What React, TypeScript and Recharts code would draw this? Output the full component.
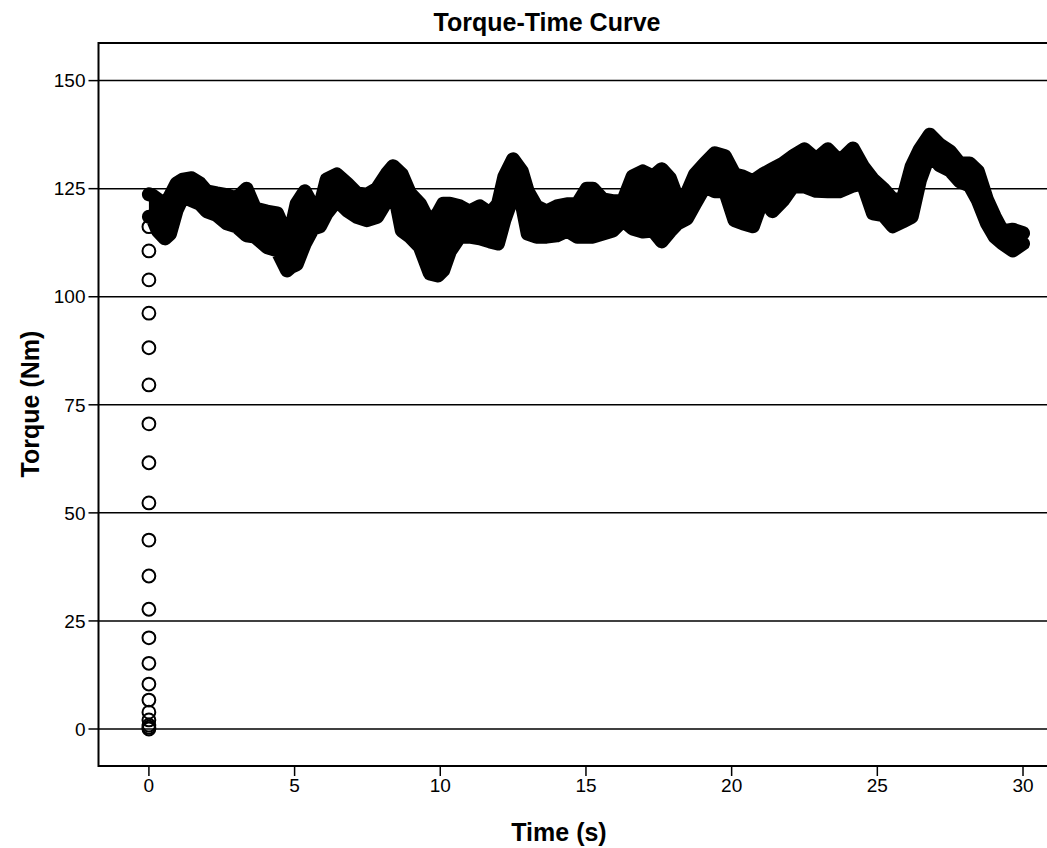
import React from "react";
import {
  ComposedChart, Area, Scatter, XAxis, YAxis, CartesianGrid, ReferenceArea,
} from "recharts";

// envelope of the dense torque trace (centres of the outermost markers)
const bandTime = [
  0.0, 0.1, 0.3, 0.55, 0.72, 0.95, 1.17, 1.47, 1.75, 1.98, 2.33, 2.67, 3.0, 3.35, 3.64, 4.05, 4.4, 4.74, 4.9,
  5.07, 5.35, 5.63, 5.87, 6.1, 6.45, 6.8, 7.14, 7.48, 7.83, 8.17, 8.38, 8.68, 8.96, 9.3, 9.64, 9.92,
  10.1, 10.33, 10.67, 11.0, 11.36, 11.7, 11.98, 12.2, 12.5, 12.8, 13.0, 13.3, 13.65, 14.0, 14.35, 14.7,
  15.03, 15.24, 15.58, 15.92, 16.27, 16.6, 16.95, 17.3, 17.6, 17.88, 18.15, 18.46, 18.74, 19.08, 19.42, 19.77,
  20.1, 20.38, 20.73, 21.07, 21.4, 21.76, 22.1, 22.5, 22.9, 23.3, 23.7, 24.16, 24.5, 24.85,
  25.2, 25.53, 25.87, 26.18, 26.46, 26.8, 27.14, 27.5, 27.83, 28.17, 28.45, 28.76, 29.03, 29.3, 29.65, 30.0,
];
const bandHigh = [
  123.7, 123.5, 122.5, 121.4, 123.2, 126.2, 127.1, 127.4, 126.2, 124.4, 123.9, 123.5, 122.7, 125, 120.4, 119.7, 119.3, 114, 116.3,
  121.5, 124.4, 120.9, 120.9, 127.1, 128.3, 126.2, 123.9, 123.6, 125, 128.5, 130.2, 128.3, 123.9, 121.5, 117, 119.3,
  121.5, 121.5, 120.9, 119.7, 120.9, 119.3, 121.4, 127.8, 131.8, 129, 124.4, 120.9, 119.7, 120.9, 121.4, 121.4,
  125, 125, 122.5, 122.1, 122.1, 127.8, 129, 127.8, 129.5, 127.4, 122.5, 123.9, 128.3, 130.8, 133.2, 132.5,
  128.3, 127.8, 126.7, 128.3, 129.5, 130.8, 132.5, 134.1, 131.8, 134.1, 131.3, 134.3, 130.2, 127.1,
  125, 122.5, 122.5, 130.2, 134.1, 137.5, 135.2, 133.6, 130.8, 130.8, 129, 122.5, 118.5, 115.1, 115.5, 114.7,
];
const bandLow = [
  118.5, 118.5, 115.3, 113.5, 114.5, 120, 123.2, 122.3, 121.5, 119.8, 118.9, 117, 116.3, 114.2, 113.9, 111.5, 110.7, 106.1, 107,
  107.5, 112.3, 115.8, 116.3, 119.3, 122.3, 120, 118.5, 117.7, 118.5, 122.3, 125.5, 115.3, 113.9, 111.5, 105.4, 104.9,
  106.1, 110.5, 113.9, 113.9, 113.5, 112.8, 112.3, 117.7, 123.4, 121.5, 114.6, 113.9, 113.9, 114.2, 115.3, 113.9,
  113.9, 113.9, 114.6, 115.3, 117.7, 115.8, 115.1, 115.3, 112.8, 115.1, 117, 118.1, 121.5, 125.5, 124.4, 124.5,
  117.7, 117, 116.3, 122.7, 119.8, 122.3, 125.5, 125.5, 124.5, 124.4, 124.4, 125.7, 126.2, 119.3,
  118.9, 116.3, 117.4, 118.5, 126.9, 133.2, 130.4, 129.2, 126.7, 125.7, 122.3, 117, 113.9, 112.3, 110.7, 112.3,
];

// the ramp-up samples recorded at t = 0
const startTorque = [
  116.2, 110.6, 103.9, 96.2, 88.2, 79.6, 70.6, 61.6, 52.3, 43.7, 35.4, 27.7, 21.1, 15.2, 10.4, 6.7, 3.9, 2.1, 0.9, 0.4, 0,
];

const xTicks = [0, 5, 10, 15, 20, 25, 30];
const yTicks = [0, 25, 50, 75, 100, 125, 150];

const bandData = bandTime.map((t, i) => ({ t, range: [bandLow[i], bandHigh[i]] }));
const startData = startTorque.map((v) => ({ t: 0, v }));

const X_DOMAIN: [number, number] = [-1.73, 31.75];
const Y_DOMAIN: [number, number] = [-8.56, 158.7];

const font = "Liberation Sans, Arial, sans-serif";
const tickStyle = { fill: "#000", fontSize: 19, fontFamily: font };
const titleStyle: React.CSSProperties = {
  position: "absolute", fontFamily: font, fontWeight: "bold", fontSize: 25, whiteSpace: "nowrap",
};

const OpenCircle = (props: any) => (
  <circle cx={props.cx} cy={props.cy} r={6.4} fill="none" stroke="#000" strokeWidth={2} />
);

export default function App() {
  return (
    <div style={{ position: "absolute", left: 0, top: 0, width: 1047, height: 848, overflow: "hidden", background: "#fff" }}>
      <ComposedChart width={1100} height={848} data={bandData} margin={{ top: 43, right: 26, bottom: 42, left: 0 }}>
        <CartesianGrid horizontal vertical={false} stroke="#000" strokeWidth={1.5} />
        <XAxis
          type="number"
          dataKey="t"
          domain={X_DOMAIN}
          ticks={xTicks}
          allowDataOverflow
          height={40}
          tick={tickStyle}
          tickLine={{ stroke: "#000", strokeWidth: 1.5 }}
          tickSize={10}
          tickMargin={3}
          axisLine={false}
        />
        <YAxis
          type="number"
          domain={Y_DOMAIN}
          ticks={yTicks}
          allowDataOverflow
          width={98.5}
          tick={tickStyle}
          tickLine={{ stroke: "#000", strokeWidth: 1.5 }}
          tickSize={10}
          tickMargin={3}
          axisLine={false}
        />
        <Area
          dataKey="range"
          type="linear"
          fill="#000"
          fillOpacity={1}
          stroke="#000"
          strokeWidth={14}
          strokeLinejoin="round"
          strokeLinecap="round"
          dot={false}
          activeDot={false}
          isAnimationActive={false}
        />
        <Scatter data={startData} dataKey="v" shape={OpenCircle} isAnimationActive={false} />
        <ReferenceArea
          x1={X_DOMAIN[0]}
          x2={X_DOMAIN[1]}
          y1={Y_DOMAIN[0]}
          y2={Y_DOMAIN[1]}
          fill="none"
          stroke="#000"
          strokeWidth={2}
          ifOverflow="visible"
        />
      </ComposedChart>
      <div style={{ ...titleStyle, left: 547, top: 22, transform: "translate(-50%, -50%)" }}>
        Torque-Time Curve
      </div>
      <div style={{ ...titleStyle, left: 559, top: 832, transform: "translate(-50%, -50%)" }}>
        Time (s)
      </div>
      <div style={{ ...titleStyle, left: 30, top: 404, transform: "translate(-50%, -50%) rotate(-90deg)" }}>
        Torque (Nm)
      </div>
    </div>
  );
}
